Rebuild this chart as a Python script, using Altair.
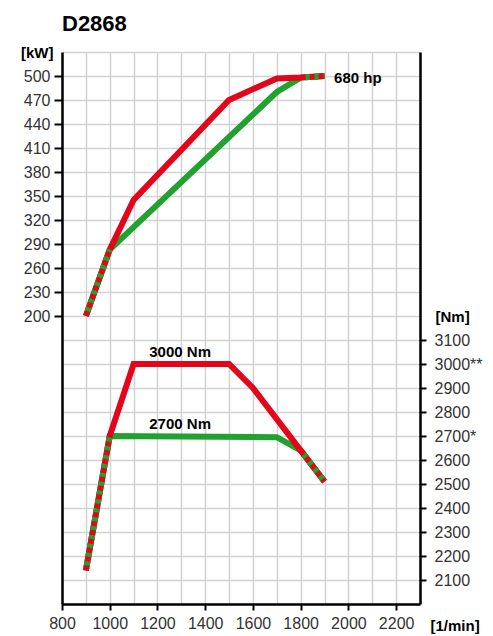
import altair as alt
import pandas as pd

# ---- data ----
rpm_ticks = list(range(800, 2301, 100))
kw_ticks = list(range(-160, 531, 30))
nm_ticks = list(range(2100, 3101, 100))

power_red_rpm = [900, 1000, 1100, 1500, 1700, 1800, 1900]
power_red_kw = [200, 283, 345, 470, 497, 498, 500]
power_green_rpm = [900, 1000, 1700, 1800, 1900]
power_green_kw = [200, 283, 480, 498, 500]

torque_red_rpm = [900, 1000, 1100, 1500, 1600, 1800, 1900]
torque_red_nm = [2140, 2700, 3000, 3000, 2900, 2640, 2510]
torque_green_rpm = [900, 1000, 1700, 1800, 1900]
torque_green_nm = [2140, 2700, 2695, 2640, 2510]

shared_ranges = [(900, 1000), (1800, 1900)]  # where both ratings coincide

power_labels = ["680 hp"]
power_label_rpm = [1940]
power_label_kw = [497]
torque_labels = ["3000 Nm", "2700 Nm"]
torque_label_rpm = [1295, 1295]
torque_label_nm = [3050, 2752]

RED = "#e3061a"
GREEN = "#21a12e"
FONT = "Liberation Sans"


def shared_part(rpms, vals, name):
    rows = []
    for i, (a, b) in enumerate(shared_ranges):
        for r, v in zip(rpms, vals):
            if a <= r <= b:
                rows.append({"rpm": r, name: v, "seg": i})
    return pd.DataFrame(rows)


p_red = pd.DataFrame({"rpm": power_red_rpm, "kw": power_red_kw})
p_green = pd.DataFrame({"rpm": power_green_rpm, "kw": power_green_kw})
p_shared = shared_part(power_green_rpm, power_green_kw, "kw")
p_text = pd.DataFrame({"rpm": power_label_rpm, "kw": power_label_kw, "t": power_labels})

t_red = pd.DataFrame({"rpm": torque_red_rpm, "nm": torque_red_nm})
t_green = pd.DataFrame({"rpm": torque_green_rpm, "nm": torque_green_nm})
t_shared = shared_part(torque_green_rpm, torque_green_nm, "nm")
t_text = pd.DataFrame({"rpm": torque_label_rpm, "nm": torque_label_nm, "t": torque_labels})

x_axis = alt.Axis(
    values=rpm_ticks, format="d", grid=True, gridColor="#d2d2d2", gridWidth=1.5,
    labelExpr="(datum.value % 200 == 0 && datum.value <= 2200) ? datum.label : ''",
    tickOpacity={"condition": {"test": "datum.value % 200 != 0 || datum.value > 2200", "value": 0}, "value": 1},
    tickSize=6, tickWidth=2, tickColor="black", domainColor="black", domainWidth=2.5,
    labelFontSize=16, labelFont=FONT, labelColor="#333333", labelPadding=5,
    labelOverlap=False, labelFlush=False,
    title="[1/min]", titleAngle=0, titleAlign="left", titleBaseline="middle",
    titleX=368, titleY=21, titleFontSize=15, titleFontWeight="bold", titleFont=FONT,
    titleColor="black",
)
x_enc = alt.X("rpm:Q", scale=alt.Scale(domain=[800, 2300], nice=False, zero=False), axis=x_axis)

kw_axis = alt.Axis(
    orient="left", values=kw_ticks, format="d", grid=True, gridColor="#d2d2d2", gridWidth=1.5,
    labelExpr="(datum.value >= 200 && datum.value <= 500) ? datum.label : ''",
    tickOpacity={"condition": {"test": "datum.value < 200 || datum.value > 500", "value": 0}, "value": 1},
    tickSize=8, tickWidth=2, tickColor="black", domainColor="black", domainWidth=2.5,
    labelFontSize=16, labelFont=FONT, labelColor="#333333", labelPadding=4,
    labelOverlap=False, labelFlush=False,
    title="[kW]", titleAngle=0, titleAlign="right", titleBaseline="middle",
    titleX=-9, titleY=0, titleFontSize=15, titleFontWeight="bold", titleFont=FONT,
    titleColor="black",
)
kw_enc = alt.Y("kw:Q", scale=alt.Scale(domain=[-160, 530], nice=False, zero=False), axis=kw_axis)

nm_axis = alt.Axis(
    orient="right", values=nm_ticks, format="d", grid=False,
    labelExpr="datum.value == 3000 ? '3000**' : (datum.value == 2700 ? '2700*' : datum.label)",
    tickSize=6, tickWidth=2, tickColor="black", domainColor="black", domainWidth=2.5,
    labelFontSize=16, labelFont=FONT, labelColor="#333333", labelPadding=8,
    labelOverlap=False, labelFlush=False,
    title="[Nm]", titleAngle=0, titleAlign="left", titleBaseline="middle",
    titleX=15, titleY=264, titleFontSize=15, titleFontWeight="bold", titleFont=FONT,
    titleColor="black",
)
nm_enc = alt.Y("nm:Q", scale=alt.Scale(domain=[2000, 4300], nice=False, zero=False), axis=nm_axis)

line_kw = dict(strokeWidth=6, strokeCap="butt", strokeJoin="miter")
dash_kw = dict(strokeWidth=6, strokeCap="butt", strokeJoin="miter", strokeDash=[4, 5], strokeDashOffset=4)
text_kw = dict(fontWeight="bold", fontSize=15, font=FONT, color="black", baseline="middle")

power = alt.layer(
    alt.Chart(p_green).mark_line(color=GREEN, **line_kw).encode(x=x_enc, y=kw_enc, order="rpm:Q"),
    alt.Chart(p_red).mark_line(color=RED, **line_kw).encode(x=x_enc, y=kw_enc, order="rpm:Q"),
    alt.Chart(p_shared).mark_line(color=GREEN, **dash_kw).encode(x=x_enc, y=kw_enc, detail="seg:N", order="rpm:Q"),
    alt.Chart(p_text).mark_text(align="left", **text_kw).encode(x=x_enc, y=kw_enc, text="t:N"),
)

torque = alt.layer(
    alt.Chart(t_green).mark_line(color=GREEN, **line_kw).encode(x=x_enc, y=nm_enc, order="rpm:Q"),
    alt.Chart(t_red).mark_line(color=RED, **line_kw).encode(x=x_enc, y=nm_enc, order="rpm:Q"),
    alt.Chart(t_shared).mark_line(color=GREEN, **dash_kw).encode(x=x_enc, y=nm_enc, detail="seg:N", order="rpm:Q"),
    alt.Chart(t_text).mark_text(align="center", **text_kw).encode(x=x_enc, y=nm_enc, text="t:N"),
)

chart = (
    alt.layer(power, torque)
    .resolve_scale(y="independent")
    .properties(
        width=358,
        height=552,
        padding={"left": 54, "top": 44, "right": 65, "bottom": 32},
        autosize=alt.AutoSizeParams(type="none"),
        title=alt.TitleParams("D2868", anchor="start", frame="group", fontSize=22,
                              fontWeight="bold", font=FONT, color="black", offset=8),
    )
    .configure_view(stroke="black", strokeWidth=2.5)
    .configure(background="white")
)

chart.save("out.html", embed_options={"renderer": "svg", "actions": False})
